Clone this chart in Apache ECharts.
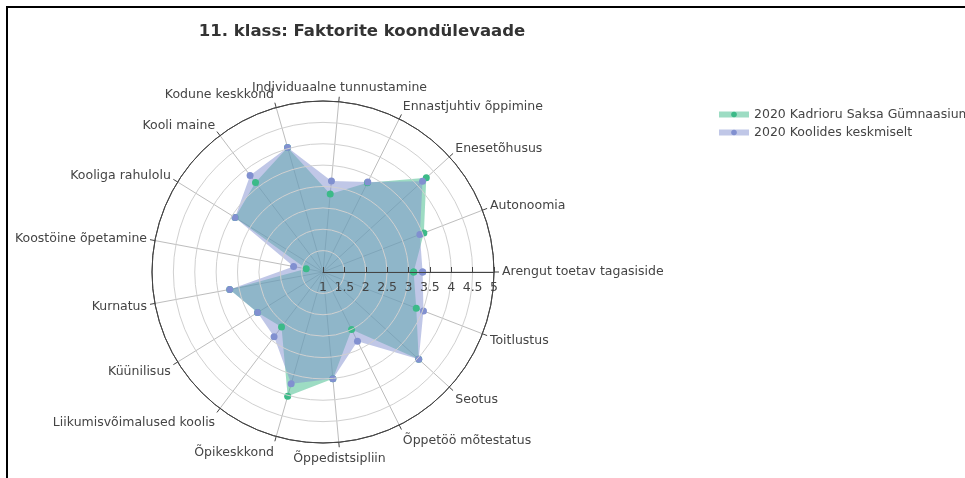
<!DOCTYPE html>
<html>
<head>
<meta charset="utf-8">
<script src="https://cdn.jsdelivr.net/npm/echarts@6/dist/echarts.min.js"></script>
<style>
html,body{margin:0;padding:0;background:#fff;}
#chart{width:965px;height:478px;}
</style>
</head>
<body>
<div id="chart"></div>
<script>
const titleText = '11. klass: Faktorite koondülevaade';
const categories = ['Arengut toetav tagasiside','Autonoomia','Enesetõhusus','Ennastjuhtiv õppimine','Individuaalne tunnustamine','Kodune keskkond','Kooli maine','Kooliga rahulolu','Koostöine õpetamine','Kurnatus','Küünilisus','Liikumisvõimalused koolis','Õpikeskkond','Õppedistsipliin','Õppetöö mõtestatus','Seotus','Toitlustus'];
const seriesNames = ['2020 Kadrioru Saksa Gümnaasium','2020 Koolides keskmiselt'];
const schoolValues = [3.12, 3.53, 4.27, 3.33, 2.83, 4.03, 3.62, 3.42, 1.40, 3.22, 2.80, 2.61, 4.02, 3.51, 2.50, 4.03, 3.34];
const averageValues = [3.33, 3.43, 4.15, 3.35, 3.14, 4.03, 3.83, 3.42, 1.70, 3.22, 2.80, 2.90, 3.72, 3.51, 2.81, 4.03, 3.52];
const radialTicks = [1, 1.5, 2, 2.5, 3, 3.5, 4, 4.5, 5];

const N = categories.length;
const step = 360 / N;
const rMax = radialTicks[radialTicks.length - 1];
function toPolar(vals){
  const d = vals.map((v, i) => [v, i * step]);
  d.push([vals[0], 360]);
  return d;
}
const colors = ['#3cba88', '#8190d0'];
const FONT = 'DejaVu Sans';
const FS = 12.5;
const PAD = 8;
const TEXT = '#444';
const ringColors = radialTicks.map((t, i) => i === radialTicks.length - 1 ? '#444' : '#d0d0d0');

// category labels placed outside the outer ring (plotly-like anchoring)
const labelData = categories.map((name, i) => {
  const a = i * step * Math.PI / 180;
  const c = Math.cos(a), s = Math.sin(a);
  const ff = s > 0 ? 0.2 : 1;
  const dx = c * PAD;
  const dy = -s * (PAD + FS * ff) - 0.35 * FS * (1 - Math.abs(c));
  return {
    value: [rMax, i * step],
    label: {
      show: true, formatter: name, position: 'inside', offset: [dx, dy],
      align: Math.abs(c) < 0.1 ? 'center' : (c > 0 ? 'left' : 'right'),
      verticalAlign: 'middle',
      color: TEXT, opacity: 1, textBorderWidth: 0, fontFamily: FONT, fontSize: FS
    }
  };
});

const chart = echarts.init(document.getElementById('chart'));
chart.setOption({
  animation: false,
  backgroundColor: '#fff',
  textStyle: { fontFamily: FONT },
  title: {
    text: titleText, left: 357, top: 18, textAlign: 'center',
    textStyle: { fontFamily: FONT, fontWeight: 'bold', fontSize: 16.5, color: '#333' }
  },
  graphic: [
    { type: 'line', shape: { x1: 6, y1: 7, x2: 965, y2: 7 }, style: { stroke: '#000', lineWidth: 2 } },
    { type: 'line', shape: { x1: 7, y1: 6, x2: 7, y2: 478 }, style: { stroke: '#000', lineWidth: 2 } }
  ],
  legend: {
    orient: 'vertical', left: 716, top: 108, padding: 0, itemWidth: 30, itemHeight: 7, itemGap: 5,
    textStyle: { fontFamily: FONT, fontSize: FS, color: TEXT },
    data: [
      { name: seriesNames[0], lineStyle: { color: colors[0], width: 6, opacity: 0.5 }, itemStyle: { color: colors[0] } },
      { name: seriesNames[1], lineStyle: { color: colors[1], width: 6, opacity: 0.5 }, itemStyle: { color: colors[1] } }
    ]
  },
  polar: { center: [323, 272], radius: 171 },
  angleAxis: {
    type: 'value', min: 0, max: 360, interval: step, startAngle: 0, clockwise: false,
    axisLine: { show: true, lineStyle: { color: '#444', width: 1 } },
    axisTick: { show: true, length: 5, lineStyle: { color: '#444' } },
    axisLabel: { show: false },
    splitLine: { show: true, lineStyle: { color: '#bdbdbd', width: 1 } }
  },
  radiusAxis: {
    type: 'value', min: radialTicks[0], max: rMax, interval: 0.5,
    axisLine: { show: true, lineStyle: { color: '#444', width: 1 } },
    axisTick: { show: true, inside: true, length: 5, lineStyle: { color: '#444' } },
    axisLabel: { fontFamily: FONT, fontSize: FS, color: TEXT, margin: -9, verticalAlign: 'top' },
    splitLine: { show: true, lineStyle: { color: ringColors, width: 1 } },
    z: 10
  },
  series: [
    {
      name: seriesNames[0], type: 'line', coordinateSystem: 'polar', data: toPolar(schoolValues),
      symbol: 'circle', symbolSize: 7, itemStyle: { color: colors[0] },
      lineStyle: { width: 0, opacity: 0 },
      areaStyle: { color: colors[0], opacity: 0.5 }
    },
    {
      name: seriesNames[1], type: 'line', coordinateSystem: 'polar', data: toPolar(averageValues),
      symbol: 'circle', symbolSize: 7, itemStyle: { color: colors[1] },
      lineStyle: { width: 0, opacity: 0 },
      areaStyle: { color: colors[1], opacity: 0.5 }
    },
    {
      name: 'categoryLabels', type: 'scatter', coordinateSystem: 'polar', data: labelData,
      symbol: 'circle', symbolSize: 0.1, silent: true, z: 20,
      itemStyle: { color: '#fff', opacity: 1 },
      label: { fontFamily: FONT, fontSize: FS, color: TEXT }
    }
  ]
});
</script>
</body>
</html>
